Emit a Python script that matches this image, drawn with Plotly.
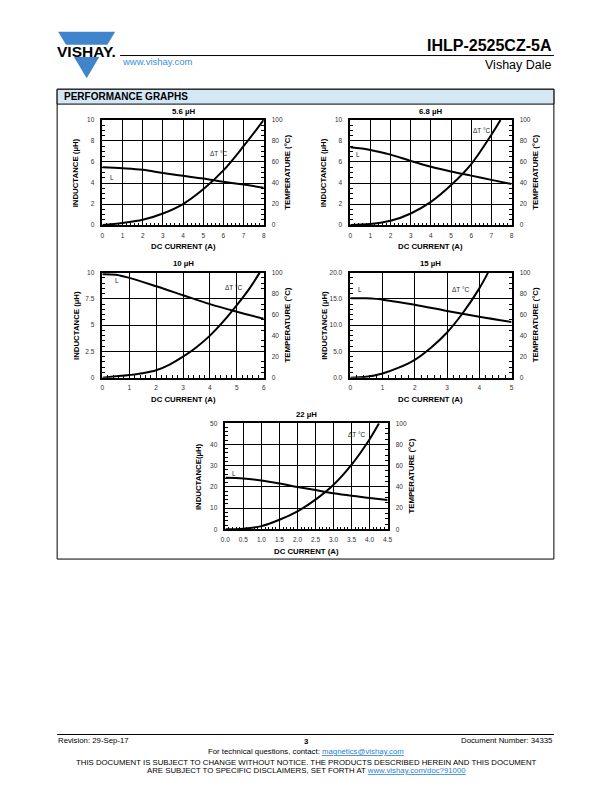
import plotly.graph_objects as go

# ---------------- data ----------------
# 5.6 uH
cur_56_L = [0, 1, 2, 3, 4, 5, 6, 7, 8]
ind_56 = [5.5, 5.4, 5.25, 4.95, 4.68, 4.42, 4.12, 3.85, 3.55]
cur_56_T = [0, 1, 2, 3, 4, 5, 6, 7, 8]
temp_56 = [0, 2, 5, 11, 20, 34, 52, 75, 100]

# 6.8 uH
cur_68_L = [0, 1, 2, 3, 4, 5, 6, 7, 8]
ind_68 = [7.4, 7.15, 6.7, 6.1, 5.55, 5.1, 4.7, 4.3, 3.9]
cur_68_T = [0, 1, 2, 3, 4, 5, 6, 7, 7.45]
temp_68 = [0, 1, 4, 11, 22, 38, 58, 86, 100]

# 10 uH
cur_10_L = [0, 0.5, 1, 2, 3, 4, 5, 6]
ind_10 = [9.85, 9.8, 9.5, 8.7, 7.85, 7.0, 6.28, 5.62]
cur_10_T = [0, 1, 1.5, 2, 2.5, 3, 3.5, 4, 4.5, 5, 5.5, 5.85]
temp_10 = [0, 2.5, 4.2, 7, 12.5, 20, 29, 40, 53.5, 69, 86, 100]

# 15 uH
cur_15_L = [0, 0.5, 0.8, 1, 2, 3, 4, 5]
ind_15 = [15.1, 15.1, 15.0, 14.85, 13.9, 12.7, 11.6, 10.6]
cur_15_T = [0, 0.5, 1, 1.5, 2, 2.5, 3, 3.5, 4, 4.27]
temp_15 = [0, 0.8, 4, 9.5, 17, 28.5, 43, 62, 85, 100]

# 22 uH
cur_22_L = [0, 0.5, 1, 1.5, 2, 2.5, 3, 3.5, 4, 4.5]
ind_22 = [24.3, 24.0, 23.0, 21.6, 20.0, 18.5, 17.0, 15.8, 14.8, 13.8]
cur_22_T = [0, 0.5, 1, 1.5, 2, 2.5, 3, 3.5, 4, 4.26]
temp_22 = [0, 0.5, 3, 9, 17, 28, 42, 61, 85, 100]

titles = ["5.6 µH", "6.8 µH", "10 µH", "15 µH", "22 µH"]
x_max = [8, 8, 6, 5, 4.5]
x_dtick = [1, 1, 1, 1, 0.5]
y_max = [10, 10, 10, 20, 50]
y_dtick = [2, 2, 2.5, 5, 10]
temp_max = 100
temp_dtick = 20
ind_titles = ["INDUCTANCE (µH)"] * 4 + ["INDUCTANCE(µH)"]
temp_title = "TEMPERATURE (°C)"
x_title = "DC CURRENT (A)"

series = [
    (cur_56_L, ind_56, cur_56_T, temp_56),
    (cur_68_L, ind_68, cur_68_T, temp_68),
    (cur_10_L, ind_10, cur_10_T, temp_10),
    (cur_15_L, ind_15, cur_15_T, temp_15),
    (cur_22_L, ind_22, cur_22_T, temp_22),
]

# ---------------- layout geometry (pixels) ----------------
W, H = 612, 792
boxes = [  # left, right, top, bottom
    (99, 263, 117, 223),
    (351, 515, 117, 223),
    (99, 263, 271, 377),
    (351, 515, 271, 377),
    (224, 389, 423, 530),
]
x_tickfmt = ["d", "d", "d", "d", ".1f"]
y_tickfmt = ["", "", "", ".1f", ""]
x_minor = [0.2, 0.2, 0.2, 0.2, 0.1]
y_minor = [0.5, 0.5, 0.5, 1, 2]
# label positions in data coords (x, y on left axis)
L_pos = [(0.26, 4.5), (0.21, 6.7), (0.38, 9.28), (0.18, 16.7), (0.13, 26.2)]
T_pos = [(5.8, 6.8), (6.54, 8.96), (4.88, 8.58), (3.43, 16.7), (3.65, 44.8)]


def px(x):
    return x / W


def py(y):
    return 1 - y / H


FONT = "Liberation Sans, Arial, sans-serif"
fig = go.Figure()
layout = {}
annotations = []
shapes = []

for i in range(5):
    xn = i + 1
    yl = 2 * i + 1
    yr = 2 * i + 2
    xs = "x" if xn == 1 else f"x{xn}"
    yls = "y" if yl == 1 else f"y{yl}"
    yrs = f"y{yr}"
    cL, vL, cT, vT = series[i]
    fig.add_trace(go.Scatter(x=cL, y=vL, xaxis=xs, yaxis=yls, mode="lines",
                             line=dict(color="black", width=2, shape="spline", smoothing=1.0),
                             showlegend=False, hoverinfo="skip"))
    fig.add_trace(go.Scatter(x=cT, y=vT, xaxis=xs, yaxis=yrs, mode="lines",
                             line=dict(color="black", width=2, shape="spline", smoothing=1.0),
                             showlegend=False, hoverinfo="skip"))
    l, r, t, b = boxes[i]
    tickfont = dict(family=FONT, size=6.5, color="#333333")
    layout["xaxis" if xn == 1 else f"xaxis{xn}"] = dict(
        domain=[px(l), px(r)], anchor=yls, range=[0, x_max[i]], dtick=x_dtick[i], tick0=0,
        tickformat=x_tickfmt[i], showgrid=True, gridcolor="black", gridwidth=1.2,
        showline=True, linecolor="black", linewidth=1.5, mirror=True, zeroline=False,
        ticks="", tickfont=tickfont, ticklabelstandoff=3,
        minor=dict(ticks="inside", ticklen=2.5, tickcolor="black", dtick=x_minor[i], tick0=0, showgrid=False),
    )
    layout["yaxis" if yl == 1 else f"yaxis{yl}"] = dict(
        domain=[py(b), py(t)], anchor=xs, range=[0, y_max[i]], dtick=y_dtick[i], tick0=0,
        tickformat=y_tickfmt[i], showgrid=True, gridcolor="black", gridwidth=1.2,
        showline=True, linecolor="black", linewidth=1.5, mirror=True, zeroline=False,
        ticks="", tickfont=tickfont, ticklabelstandoff=5,
        minor=dict(ticks="inside", ticklen=2.5, tickcolor="black", dtick=y_minor[i], tick0=0, showgrid=False),
    )
    layout[f"yaxis{yr}"] = dict(
        domain=[py(b), py(t)], anchor=xs, overlaying=yls, side="right",
        range=[0, temp_max], dtick=temp_dtick, tick0=0, showgrid=False,
        showline=True, linecolor="black", linewidth=1.5, zeroline=False,
        ticks="", tickfont=tickfont, ticklabelstandoff=5,
        minor=dict(ticks="inside", ticklen=2.5, tickcolor="black", dtick=5, tick0=0, showgrid=False),
    )
    cx = (l + r) / 2
    cy = (t + b) / 2
    bold = dict(family=FONT, size=7.8, color="black")
    annotations += [
        dict(text=f"<b>{titles[i]}</b>", x=px(cx), y=py(t - 9), xref="paper", yref="paper",
             showarrow=False, font=bold, xanchor="center", yanchor="middle"),
        dict(text=f"<b>{x_title}</b>", x=px(cx), y=py(b + 22), xref="paper", yref="paper",
             showarrow=False, font=bold, xanchor="center", yanchor="middle"),
        dict(text=f"<b>{ind_titles[i]}</b>", x=px(l - 27), y=py(cy), xref="paper", yref="paper",
             showarrow=False, font=bold, textangle=-90, xanchor="center", yanchor="middle"),
        dict(text=f"<b>{temp_title}</b>", x=px(r + 24), y=py(cy), xref="paper", yref="paper",
             showarrow=False, font=bold, textangle=-90, xanchor="center", yanchor="middle"),
        dict(text="L", x=L_pos[i][0], y=L_pos[i][1], xref=xs, yref=yls, showarrow=False,
             font=dict(family=FONT, size=6.5, color="#222"), xanchor="left", yanchor="middle"),
        dict(text="ΔT °C", x=T_pos[i][0], y=T_pos[i][1], xref=xs, yref=yls, showarrow=False,
             font=dict(family=FONT, size=6.5, color="#222"), xanchor="center", yanchor="middle"),
    ]

# ---------------- page decorations ----------------
def rect(x0, y0, x1, y1, **kw):
    return dict(type="rect", xref="paper", yref="paper", x0=px(x0), x1=px(x1), y0=py(y1), y1=py(y0), **kw)


def line(x0, y0, x1, y1, w=1):
    return dict(type="line", xref="paper", yref="paper", x0=px(x0), x1=px(x1), y0=py(y0), y1=py(y1),
                line=dict(color="black", width=w))


def path(pts, color):
    d = "M " + " L ".join(f"{px(x):.5f},{py(y):.5f}" for x, y in pts) + " Z"
    return dict(type="path", xref="paper", yref="paper", path=d, fillcolor=color, line=dict(width=0))


BLUE = "#3f84cc"
shapes += [
    path([(54, 28), (112, 28), (104.0, 41), (62.0, 41)], BLUE),
    path([(70.2, 53.5), (95.8, 53.5), (83, 75)], BLUE),
    line(117, 52, 558, 52, 1),
    rect(53, 86, 558, 560, line=dict(color="black", width=1), fillcolor="rgba(0,0,0,0)"),
    rect(53, 86, 558, 101, line=dict(color="black", width=1), fillcolor="#d4e7f5"),
    line(53, 737, 558, 737, 1),
]

small = dict(family=FONT, size=7.8, color="black")
LINK = "color:#2a7fd0;text-decoration:underline"
annotations += [
    dict(text="<b>VISHAY.</b>", x=px(83), y=py(47.5), xref="paper", yref="paper", showarrow=False,
         font=dict(family=FONT, size=15.5, color="black"), xanchor="center", yanchor="middle"),
    dict(text="<b>IHLP-2525CZ-5A</b>", x=px(558), y=py(42), xref="paper", yref="paper", showarrow=False,
         font=dict(family=FONT, size=16, color="black"), xanchor="right", yanchor="middle"),
    dict(text="Vishay Dale", x=px(558), y=py(62), xref="paper", yref="paper", showarrow=False,
         font=dict(family=FONT, size=12.5, color="black"), xanchor="right", yanchor="middle"),
    dict(text="www.vishay.com", x=px(117), y=py(58), xref="paper", yref="paper", showarrow=False,
         font=dict(family=FONT, size=9.5, color="#3a8fd6"), xanchor="left", yanchor="middle"),
    dict(text="<b>PERFORMANCE GRAPHS</b>", x=px(58), y=py(93.5), xref="paper", yref="paper", showarrow=False,
         font=dict(family=FONT, size=10, color="black"), xanchor="left", yanchor="middle"),
    dict(text="Revision: 29-Sep-17", x=px(52), y=py(743), xref="paper", yref="paper", showarrow=False,
         font=small, xanchor="left", yanchor="middle"),
    dict(text="<b>3</b>", x=px(306), y=py(744), xref="paper", yref="paper", showarrow=False,
         font=small, xanchor="center", yanchor="middle"),
    dict(text="Document Number: 34335", x=px(559), y=py(743), xref="paper", yref="paper", showarrow=False,
         font=small, xanchor="right", yanchor="middle"),
    dict(text=f"For technical questions, contact: <span style='{LINK}'>magnetics@vishay.com</span>",
         x=px(306), y=py(754), xref="paper", yref="paper", showarrow=False,
         font=small, xanchor="center", yanchor="middle"),
    dict(text="THIS DOCUMENT IS SUBJECT TO CHANGE WITHOUT NOTICE. THE PRODUCTS DESCRIBED HEREIN AND THIS DOCUMENT",
         x=px(306), y=py(765), xref="paper", yref="paper", showarrow=False,
         font=small, xanchor="center", yanchor="middle"),
    dict(text=f"ARE SUBJECT TO SPECIFIC DISCLAIMERS, SET FORTH AT <span style='{LINK}'>www.vishay.com/doc?91000</span>",
         x=px(306), y=py(773), xref="paper", yref="paper", showarrow=False,
         font=small, xanchor="center", yanchor="middle"),
]

fig.update_layout(
    width=W, height=H, margin=dict(l=0, r=0, t=0, b=0),
    paper_bgcolor="white", plot_bgcolor="white",
    annotations=annotations, shapes=shapes, **layout,
)
fig.write_html("out.html", config={"displayModeBar": False},
               post_script="document.body.style.margin='0';document.body.style.overflow='hidden';")
